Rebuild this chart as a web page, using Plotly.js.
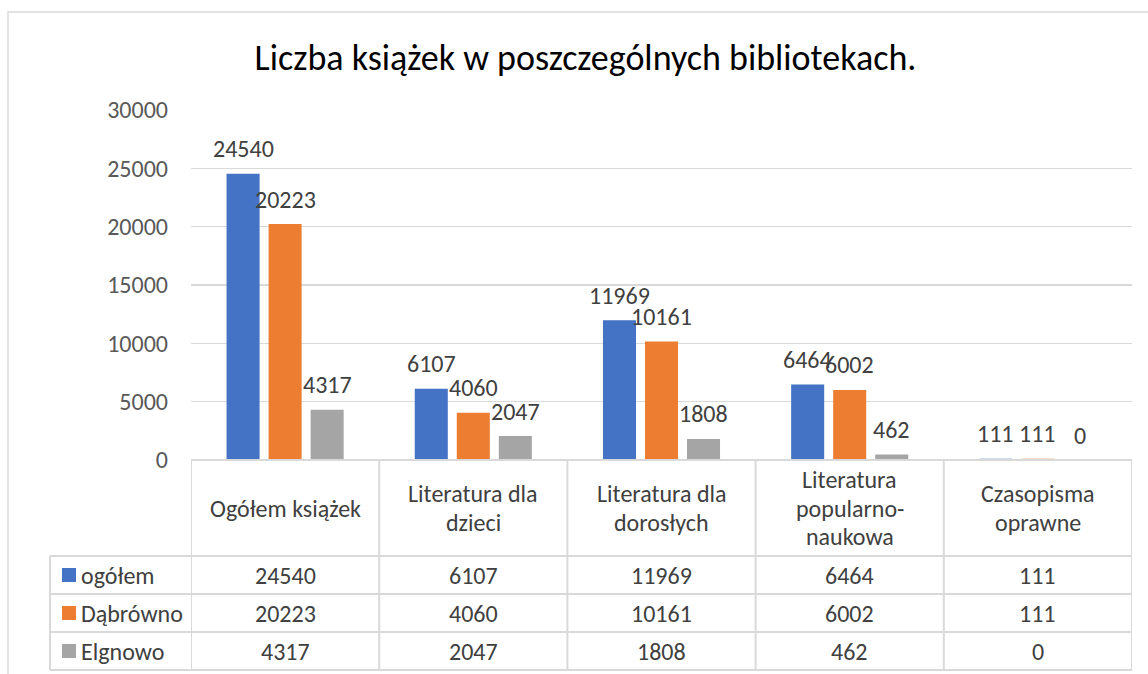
<!DOCTYPE html>
<html>
<head>
<meta charset="utf-8">
<script src="https://cdn.plot.ly/plotly-3.0.1.min.js"></script>
<style>html,body{margin:0;padding:0;background:#fff;}#chart{width:1148px;height:674px;}</style>
</head>
<body>
<div id="chart"></div>
<script>
// ---- data ----
const categories = ["Ogółem książek", "Literatura dla<br>dzieci", "Literatura dla<br>dorosłych", "Literatura<br>popularno-<br>naukowa", "Czasopisma<br>oprawne"];
const seriesNames = ["ogółem", "Dąbrówno", "Elgnowo"];
const ogolem   = [24540, 6107, 11969, 6464, 111];
const dabrowno = [20223, 4060, 10161, 6002, 111];
const elgnowo  = [4317, 2047, 1808, 462, 0];
const yTicks = [0, 5000, 10000, 15000, 20000, 25000, 30000];
const titleText = "Liczba książek w poszczególnych bibliotekach.";

const seriesValues = [ogolem, dabrowno, elgnowo];
const colors = ["#4472C4", "#ED7D31", "#A5A5A5"];
const FONT = "Carlito, 'Noto Sans', sans-serif";
const FS = 24;
const TXT = "#404040";
const LINE = "#d9d9d9";

// layout geometry (pixels)
const W = 1148, H = 674;
const L = 191, R = 1132, T = 110, B = 460;
const px = v => (v - L) / (R - L);
const py = v => (B - v) / (B - T);
const catIdx = categories.map((c, i) => i);

const traces = seriesValues.map((vals, s) => ({
  type: "bar",
  name: seriesNames[s],
  x: catIdx,
  y: vals,
  marker: {color: colors[s]},
  hoverinfo: "y"
}));

const annotations = [];
const shapes = [];

// data labels
seriesValues.forEach((vals, s) => {
  vals.forEach((v, i) => {
    annotations.push({
      x: i, y: v, xref: "x", yref: "y",
      text: String(v), showarrow: false,
      xshift: (s - 1) * 42, yshift: 25,
      xanchor: "center", yanchor: "middle",
      font: {family: FONT, size: FS, color: TXT}
    });
  });
});

// header row: category names (one annotation per line, Excel-like line spacing)
const headerMid = 508, lineGap = 28.5;
categories.forEach((c, i) => {
  const lines = c.split("<br>");
  lines.forEach((ln, k) => {
    const yc = headerMid + (k - (lines.length - 1) / 2) * lineGap;
    annotations.push({
      x: i, y: py(yc), xref: "x", yref: "paper",
      text: ln, showarrow: false, align: "center",
      xanchor: "center", yanchor: "middle",
      font: {family: FONT, size: FS, color: TXT}
    });
  });
});

// table rows
const rowTop = [556, 594, 632];
const rowH = 38;
seriesValues.forEach((vals, s) => {
  const yc = rowTop[s] + rowH / 2;
  shapes.push({type: "rect", xref: "paper", yref: "paper",
    x0: px(62), x1: px(76), y0: py(yc - 7), y1: py(yc + 7),
    fillcolor: colors[s], line: {width: 0}});
  annotations.push({
    x: px(79), y: py(yc), xref: "paper", yref: "paper",
    text: seriesNames[s], showarrow: false,
    xanchor: "left", yanchor: "middle",
    font: {family: FONT, size: FS, color: TXT}
  });
  vals.forEach((v, i) => {
    annotations.push({
      x: i, y: py(yc), xref: "x", yref: "paper",
      text: String(v), showarrow: false,
      xanchor: "center", yanchor: "middle",
      font: {family: FONT, size: FS, color: TXT}
    });
  });
});

// table grid lines
const lineStyle = {color: LINE, width: 2};
[556, 594, 632, 670].forEach(yy => {
  shapes.push({type: "line", xref: "paper", yref: "paper",
    x0: px(50), x1: 1, y0: py(yy), y1: py(yy), line: lineStyle});
});
shapes.push({type: "line", xref: "paper", yref: "paper",
  x0: 0, x1: 1, y0: 0, y1: 0, line: lineStyle});
for (let i = 0; i <= categories.length; i++) {
  shapes.push({type: "line", xref: "x", yref: "paper",
    x0: i - 0.5, x1: i - 0.5, y0: 0, y1: py(670), line: lineStyle});
}
shapes.push({type: "line", xref: "paper", yref: "paper",
  x0: px(50), x1: px(50), y0: py(556), y1: py(670), line: lineStyle});

// outer chart border
shapes.push({type: "rect", xref: "paper", yref: "paper",
  x0: px(8), x1: px(1160), y0: py(690), y1: py(12),
  line: {color: LINE, width: 1.5}, fillcolor: "rgba(0,0,0,0)"});

const layout = {
  width: W, height: H,
  margin: {l: L, r: W - R, t: T, b: H - B, pad: 0},
  paper_bgcolor: "#fff", plot_bgcolor: "#fff",
  showlegend: false,
  barmode: "group",
  bargap: 0.33,
  bargroupgap: 0.214,
  title: {
    text: titleText,
    x: 585.5 / W, xref: "container", xanchor: "center",
    y: 1 - 57 / H, yref: "container", yanchor: "middle",
    font: {family: FONT, size: 36, color: "#000"}
  },
  xaxis: {
    range: [-0.5, categories.length - 0.5],
    showticklabels: false, showgrid: false, zeroline: false,
    showline: false, ticks: "", fixedrange: true
  },
  yaxis: {
    range: [0, 30000],
    tickvals: yTicks,
    ticktext: yTicks.map(String),
    showgrid: true, gridcolor: LINE, gridwidth: 1.5,
    zeroline: false, showline: false, ticks: "",
    ticklabelstandoff: 22,
    tickfont: {family: FONT, size: FS, color: "#595959"},
    fixedrange: true
  },
  annotations: annotations,
  shapes: shapes
};

Plotly.newPlot("chart", traces, layout, {displayModeBar: false, staticPlot: true});
</script>
</body>
</html>
